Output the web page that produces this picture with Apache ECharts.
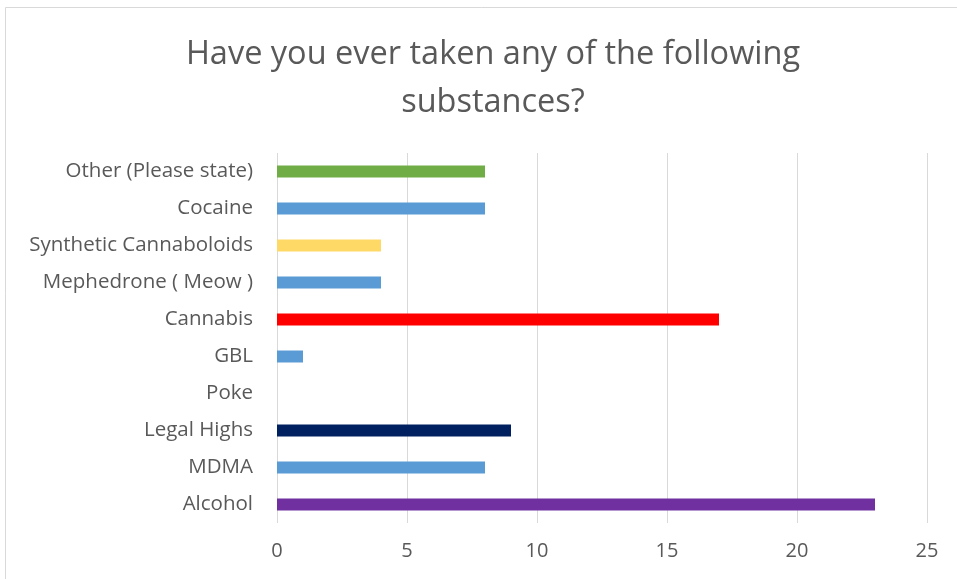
<!DOCTYPE html>
<html>
<head>
<meta charset="utf-8">
<script src="https://cdn.jsdelivr.net/npm/echarts@6/dist/echarts.min.js"></script>
<style>
html,body{margin:0;padding:0;background:#fff;}
#c{width:957px;height:579px;}
</style>
</head>
<body>
<div id="c"></div>
<script>
var categories = ["Alcohol","MDMA","Legal Highs","Poke","GBL","Cannabis","Mephedrone ( Meow )","Synthetic Cannaboloids","Cocaine","Other (Please state)"];
var values = [23, 8, 9, 0, 1, 17, 4, 4, 8, 8];
var barColors = ["#7030A0","#5B9BD5","#002060","#5B9BD5","#5B9BD5","#FF0000","#5B9BD5","#FFD966","#5B9BD5","#70AD47"];
var xTicks = [0, 5, 10, 15, 20, 25];
var titleText = "Have you ever taken any of the following\nsubstances?";

var font = "'Open Sans', sans-serif";
var chart = echarts.init(document.getElementById('c'), null, {renderer:'canvas'});
chart.setOption({
  animation:false,
  backgroundColor:'#fff',
  title:{
    text:titleText,
    left:488, top:26,
    textAlign:'center',
    textStyle:{color:'#595959', fontSize:32.5, fontWeight:'normal', fontFamily:font, lineHeight:48}
  },
  graphic:[{type:'rect', shape:{x:5.5,y:7.5,width:1200,height:1200}, style:{fill:'none', stroke:'#d9d9d9', lineWidth:1}, silent:true}],
  grid:{left:277, right:30, top:153, bottom:56, containLabel:false},
  xAxis:{
    type:'value', min:xTicks[0], max:xTicks[xTicks.length-1], interval:5,
    axisLine:{show:false}, axisTick:{show:false},
    splitLine:{show:true, lineStyle:{color:'#d9d9d9', width:1}},
    axisLabel:{color:'#595959', fontSize:20, fontFamily:font, margin:18}
  },
  yAxis:{
    type:'category', data:categories,
    axisLine:{show:false}, axisTick:{show:false},
    axisLabel:{color:'#595959', fontSize:20.5, fontFamily:font, margin:24}
  },
  series:[{
    type:'bar', barWidth:12,
    data: values.map(function(v,i){return {value:v, itemStyle:{color:barColors[i]}};})
  }]
});
</script>
</body>
</html>
